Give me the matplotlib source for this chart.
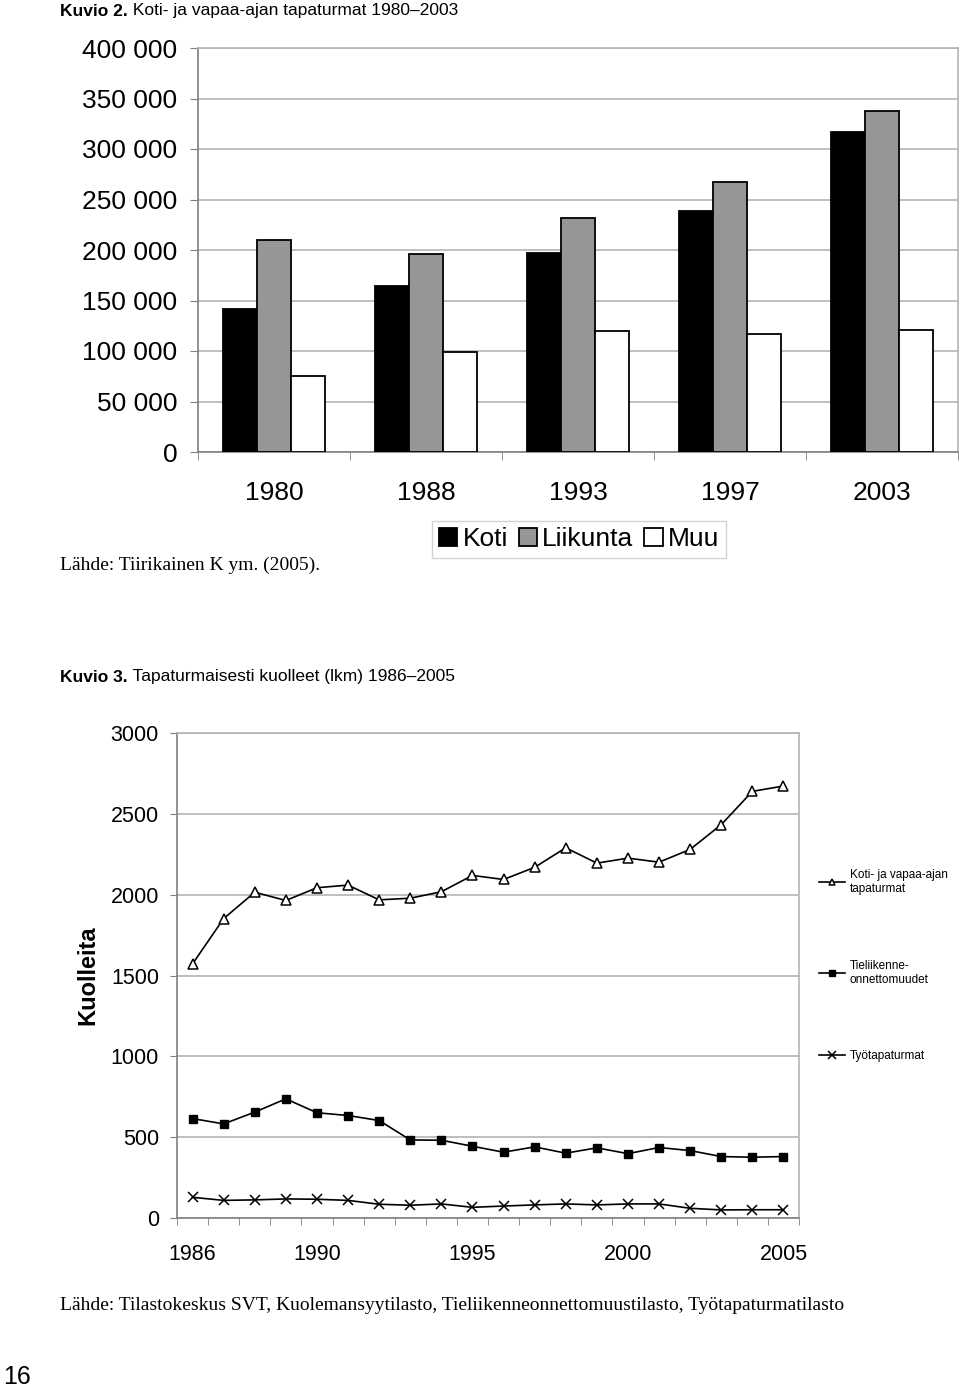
import numpy as np
import matplotlib.pyplot as plt
from matplotlib import font_manager

# ── Data: Kuvio 2 (bars) ───────────────────────────────
bar_years = ["1980", "1988", "1993", "1997", "2003"]
koti = [141700, 163900, 197400, 239100, 316900]
liikunta = [210300, 196000, 232100, 266900, 338100]
muu = [74800, 98700, 119900, 116600, 120900]
bar_series = ["Koti", "Liikunta", "Muu"]

# ── Data: Kuvio 3 (lines) ──────────────────────────────
line_years = list(range(1986, 2006))
koti_vapaa = [1572, 1852, 2015, 1964, 2043, 2059, 1968, 1978, 2018, 2119,
              2094, 2169, 2290, 2195, 2226, 2201, 2280, 2433, 2639, 2672]
tieliikenne = [615, 582, 655, 737, 651, 634, 603, 483, 481, 444,
               407, 440, 401, 434, 398, 436, 417, 380, 376, 380]
tyo = [128, 109, 112, 118, 116, 109, 85, 79, 87, 66,
       74, 81, 87, 81, 87, 87, 60, 50, 51, 51]
line_labels = ["Koti- ja vapaa-ajan\ntapaturmat",
               "Tieliikenne-\nonnettomuudet",
               "Työtapaturmat"]
shown_years = [1986, 1990, 1995, 2000, 2005]

# ── Fonts ───────────────────────────────────────────────
names = {f.name for f in font_manager.fontManager.ttflist}
SANS = "Liberation Sans"
NARROW = "Liberation Sans Narrow" if "Liberation Sans Narrow" in names else SANS
SERIF = "Liberation Serif"
plt.rcParams["font.family"] = [SANS, "DejaVu Sans"]

W, H = 960, 1390
fig = plt.figure(figsize=(W / 100, H / 100), dpi=100)


def px_axes(left, top, right, bottom):
    """axes rectangle given in picture pixels"""
    return fig.add_axes([left / W, 1 - bottom / H, (right - left) / W, (bottom - top) / H])


def title(x, y, bold, rest):
    t = fig.text(x / W, 1 - y / H, bold, fontsize=12.5, fontweight="bold",
                 family=NARROW, va="center", ha="left")
    r = fig.canvas.get_renderer()
    bb = t.get_window_extent(renderer=r)
    fig.text(bb.x1 / W, 1 - y / H, rest, fontsize=12.5, family=NARROW,
             va="center", ha="left")


GRID = "#b4b4b4"
AXC = "#808080"

# ── Kuvio 2 ─────────────────────────────────────────────
title(60, 11, "Kuvio 2.", " Koti- ja vapaa-ajan tapaturmat 1980–2003")

ax1 = px_axes(198, 48, 958, 452)
x = np.arange(len(bar_years))
w = 1 / 4.5
colors = ["black", "#969696", "white"]
for i, (vals, name) in enumerate(zip([koti, liikunta, muu], bar_series)):
    ax1.bar(x + (i - 1) * w, vals, width=w, color=colors[i], edgecolor="black",
            linewidth=1.3, label=name, zorder=3)

ax1.set_xlim(-0.5, len(bar_years) - 0.5)
ax1.set_ylim(0, 400000)
ax1.set_yticks(np.arange(0, 400001, 50000))
ax1.set_yticklabels([f"{v:,}".replace(",", " ") for v in range(0, 400001, 50000)])
ax1.set_xticks(x)
ax1.set_xticklabels(bar_years)
ax1.set_xticks(np.arange(-0.5, len(bar_years)), minor=True)
ax1.tick_params(axis="x", which="major", length=0, pad=21, labelsize=19)
ax1.tick_params(axis="x", which="minor", length=6, color=AXC, direction="out")
ax1.tick_params(axis="y", length=6, color=AXC, pad=9, labelsize=19)
ax1.yaxis.grid(True, color=GRID, linewidth=1.2, zorder=0)
for s in ["left", "bottom"]:
    ax1.spines[s].set_color(AXC)
    ax1.spines[s].set_linewidth(1.2)
for s in ["top", "right"]:
    ax1.spines[s].set_color(GRID)
    ax1.spines[s].set_linewidth(1.2)

leg1 = ax1.legend(ncol=3, loc="center", bbox_to_anchor=(579 / W, 1 - 539.5 / H),
                  bbox_transform=fig.transFigure, fontsize=19, frameon=True,
                  fancybox=False, edgecolor="#c8c8c8", handlelength=0.7,
                  handleheight=0.7, handletextpad=0.2, columnspacing=0.4,
                  borderpad=0.25, borderaxespad=0)
leg1.get_frame().set_linewidth(1.0)

fig.text(60 / W, 1 - 565 / H, "Lähde: Tiirikainen K ym. (2005).", family=SERIF,
         fontsize=14, va="center", ha="left")

# ── Kuvio 3 ─────────────────────────────────────────────
title(60, 677, "Kuvio 3.", " Tapaturmaisesti kuolleet (lkm) 1986–2005")

ax2 = px_axes(177, 733, 799, 1218)
xi = np.arange(len(line_years))
ax2.plot(xi, koti_vapaa, color="black", linewidth=1.2, marker="^", markersize=6.5,
         markerfacecolor="white", markeredgecolor="black", markeredgewidth=1.1,
         label=line_labels[0], zorder=3)
ax2.plot(xi, tieliikenne, color="black", linewidth=1.2, marker="s", markersize=5.5,
         markerfacecolor="black", markeredgecolor="black",
         label=line_labels[1], zorder=3)
ax2.plot(xi, tyo, color="black", linewidth=1.2, marker="x", markersize=7.5,
         markeredgewidth=1.1, label=line_labels[2], zorder=3)

ax2.set_xlim(-0.5, len(line_years) - 0.5)
ax2.set_ylim(0, 3000)
ax2.set_yticks(np.arange(0, 3001, 500))
ax2.set_xticks([line_years.index(y) for y in shown_years])
ax2.set_xticklabels([str(y) for y in shown_years])
ax2.set_xticks(np.arange(-0.5, len(line_years)), minor=True)
ax2.tick_params(axis="x", which="major", length=0, pad=19, labelsize=15.5)
ax2.tick_params(axis="x", which="minor", length=5, color=AXC, direction="out")
ax2.tick_params(axis="y", length=5, color=AXC, pad=8, labelsize=15.5)
ax2.yaxis.grid(True, color=GRID, linewidth=1.2, zorder=0)
for s in ["left", "bottom"]:
    ax2.spines[s].set_color(AXC)
    ax2.spines[s].set_linewidth(1.2)
for s in ["top", "right"]:
    ax2.spines[s].set_color(GRID)
    ax2.spines[s].set_linewidth(1.2)

fig.text(88 / W, 1 - 975 / H, "Kuolleita", rotation=90, fontsize=17,
         fontweight="bold", va="center", ha="center")

ax2.legend(loc="upper left", bbox_to_anchor=(819 / W, 1 - 869 / H),
           bbox_transform=fig.transFigure, fontsize=8.5, frameon=False,
           handlelength=2.2, handletextpad=0.4, labelspacing=5.5,
           borderpad=0, borderaxespad=0, markerscale=0.75)

fig.text(60 / W, 1 - 1305 / H,
         "Lähde: Tilastokeskus SVT, Kuolemansyytilasto, "
         "Tieliikenneonnettomuustilasto, Työtapaturmatilasto",
         family=SERIF, fontsize=14, va="center", ha="left")

fig.text(3 / W, 1 - 1377 / H, "16", family=NARROW, fontsize=18, va="center", ha="left")

fig.savefig("out.png", dpi=100)
